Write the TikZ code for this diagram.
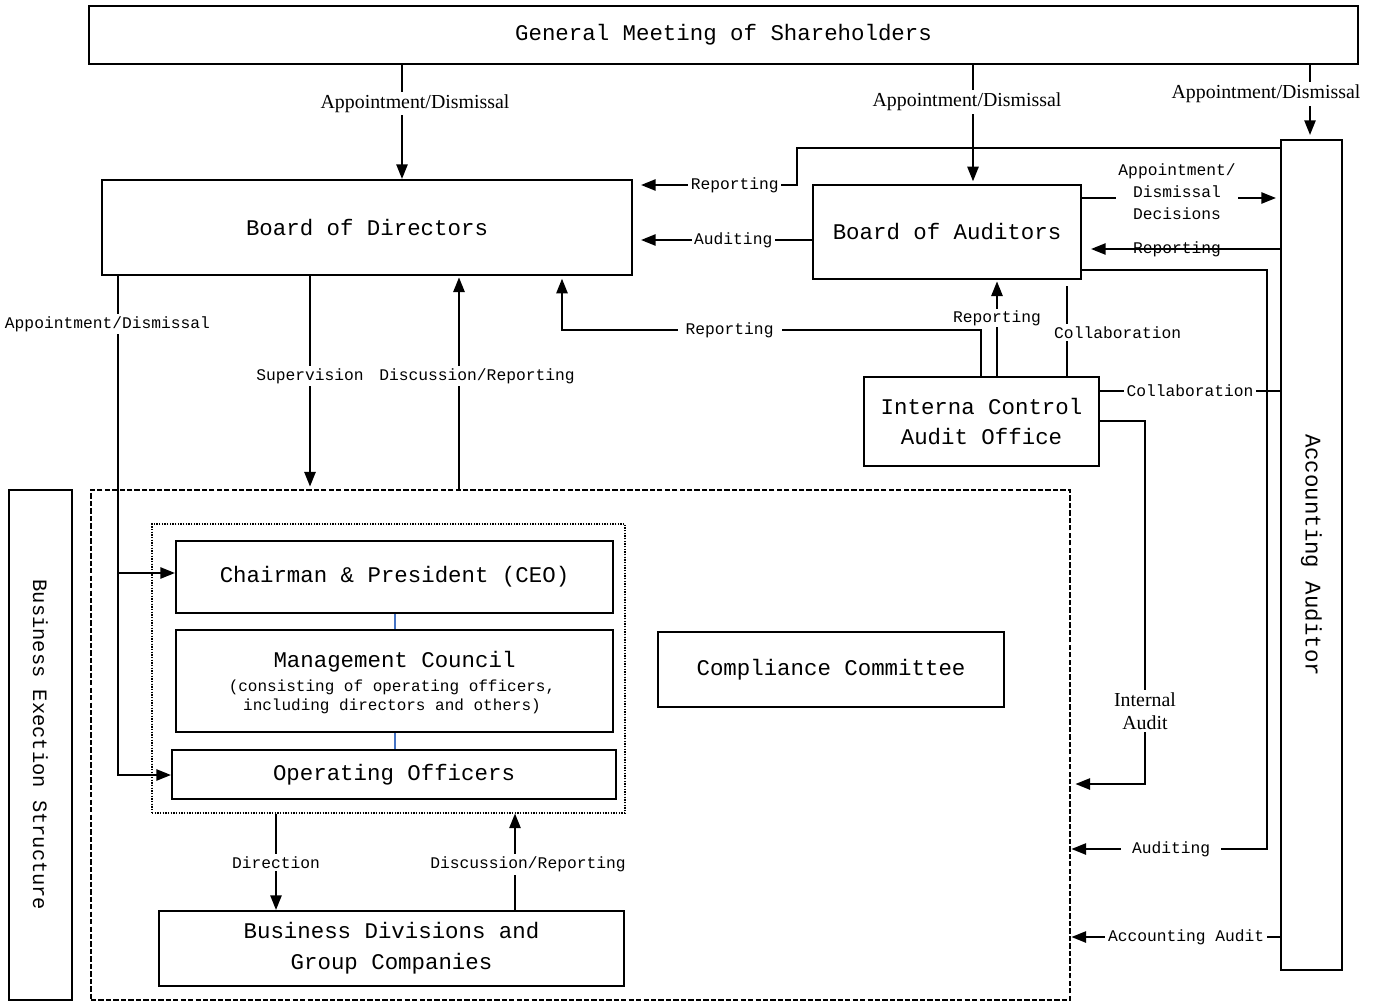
\documentclass[tikz,border=0pt]{standalone}
\usepackage{fontspec}
\setmainfont{Liberation Serif}
\newfontfamily\monofont{Liberation Mono}
\usetikzlibrary{arrows.meta}

\newcommand{\titlefont}{\monofont\fontsize{16.8}{23}\selectfont}
\newcommand{\lblfont}{\monofont\fontsize{12.2}{16.5}\selectfont}
\newcommand{\notefont}{\monofont\fontsize{12}{14.3}\selectfont}
\newcommand{\seriflbl}{\fontsize{14.9}{17}\selectfont}

\definecolor{linkblue}{RGB}{68,114,196}

\tikzset{
  box/.style={draw, line width=1.6pt, inner sep=0pt, align=center, font=\titlefont},
  arr/.style={line width=1.3pt, -{Triangle[length=11pt,width=8.5pt]}},
  conn/.style={line width=1.3pt},
  lbl/.style={fill=white, inner sep=2pt, font=\lblfont, align=center},
  slbl/.style={fill=white, inner sep=2pt, font=\seriflbl, align=center},
}

\begin{document}
\begin{tikzpicture}[x=0.75pt, y=-0.75pt]
  \useasboundingbox (0,0) rectangle (1381,1002);

  % frames of the execution side
  \node[draw, line width=2.2pt, dash pattern=on 4pt off 1.6pt, inner sep=0pt,
    minimum width=734.25pt, minimum height=382.5pt] (exec) at (580.5,745) {};
  \node[draw, line width=0.8pt, dash pattern=on 1pt off 1pt, inner sep=0pt,
    minimum width=354.75pt, minimum height=216.75pt] (dotbox) at (388.5,668.5) {};

  % boxes
  \node[box, minimum width=951.75pt, minimum height=43.5pt] (gm) at (723.5,35) {General Meeting of Shareholders};
  \node[box, minimum width=397.5pt, minimum height=71.25pt] (bod) at (367,227.5) {Board of Directors};
  \node[box, minimum width=201pt, minimum height=70.5pt] (boa) at (947,232) {Board of Auditors};
  \node[box, minimum width=45.75pt, minimum height=622.5pt] (aa) at (1311.5,555) {\rotatebox{-90}{Accounting Auditor}};
  \node[box, minimum width=176.25pt, minimum height=66.75pt] (icao) at (981.5,421.5) {Interna Control\\Audit Office};
  \node[box, minimum width=47.25pt, minimum height=382.5pt, font=\monofont\fontsize{15.3}{18}\selectfont] (bes) at (40.5,745) {\rotatebox{-90}{Business Exection Structure}};
  \node[box, minimum width=327.75pt, minimum height=54pt] (ceo) at (394.5,577) {Chairman \& President (CEO)};
  \node[box, minimum width=327.75pt, minimum height=76.5pt] (mc) at (394.5,681) {};
  \node[font=\titlefont] (mctitle) at (394.5,662) {Management Council};
  \node[font=\notefont, align=center] (mcnote) at (392,697) {(consisting of operating officers,\\including directors and others)};
  \node[box, minimum width=333pt, minimum height=36.75pt] (oo) at (394,774.5) {Operating Officers};
  \node[box, minimum width=259.5pt, minimum height=56.25pt] (cc) at (831,669.5) {Compliance Committee};
  \node[box, minimum width=348.75pt, minimum height=56.25pt] (bdgc) at (391.5,948.5) {Business Divisions and\\Group Companies};

  % from the shareholders
  \draw[arr] (gm.south -| 402,0) -- node[slbl, pos=0.34, xshift=9.75pt]{Appointment/Dismissal} (bod.north -| 402,0);
  \draw[arr, shorten >=2pt] (gm.south -| 973,0) -- node[slbl, pos=0.31, xshift=-4.5pt]{Appointment/Dismissal} (boa.north -| 973,0);
  \draw[arr, shorten >=3pt] (gm.south -| 1310,0) -- node[slbl, pos=0.39, xshift=-33pt]{Appointment/Dismissal} (aa.north -| 1310,0);

  % auditors and accounting auditor
  \draw[arr, shorten >=6pt] (aa.west |- 0,148) -- (797,148) -- (797,185) -- node[lbl, pos=0.38]{Reporting} (bod.east |- 0,185);
  \draw[arr, shorten >=6pt] (boa.west |- 0,240) -- node[lbl, pos=0.44]{Auditing} (bod.east |- 0,240);
  \draw[arr, shorten >=3pt] (boa.east |- 0,198) -- node[lbl, pos=0.48, yshift=5pt]{Appointment/\\Dismissal\\Decisions} (aa.west |- 0,198);
  \draw[arr, shorten >=6.75pt] (aa.west |- 0,249) -- node[lbl, fill=none, pos=0.52]{Reporting} (boa.east |- 0,249);
  \draw[arr] (boa.east |- 0,270) -- (1267,270) -- (1267,849) -- node[lbl, inner xsep=8pt, pos=0.49]{Auditing} (exec.east |- 0,849);

  % internal control audit office
  \draw[arr, shorten >=1pt] (icao.north -| 997,0) -- node[lbl, inner sep=1pt, pos=0.6]{Reporting} (boa.south -| 997,0);
  \draw[arr, shorten >=2pt] (icao.north -| 981,0) -- (981,330) -- node[lbl, inner xsep=6pt, pos=0.6]{Reporting} (562,330) -- (bod.south -| 562,0);
  \draw[conn, shorten <=4.5pt] (boa.south -| 1067,0) -- node[lbl, pos=0.55, xshift=38pt]{Collaboration} (icao.north -| 1067,0);
  \draw[conn] (icao.east |- 0,391) -- node[lbl, pos=0.5]{Collaboration} (aa.west |- 0,391);
  \draw[arr, shorten >=3pt] (icao.east |- 0,421) -- (1145,421) -- node[slbl, pos=0.8]{Internal\\Audit} (1145,784) -- (exec.east |- 0,784);
  \draw[arr] (aa.west |- 0,937) -- node[lbl, pos=0.45]{Accounting Audit} (exec.east |- 0,937);

  % board of directors and execution
  \draw[arr, shorten >=1.5pt] (bod.south -| 310,0) -- node[lbl, pos=0.47]{Supervision} (exec.north -| 310,0);
  \draw[arr, shorten >=1pt] (exec.north -| 459,0) -- node[lbl, pos=0.53, xshift=13.5pt]{Discussion/Reporting} (bod.south -| 459,0);
  \coordinate (split) at (118,573);
  \draw[arr] (bod.south -| 118,0) -- node[lbl, pos=0.096, xshift=-7.9pt]{Appointment/Dismissal} (118,775) -- (oo.west |- 0,775);
  \draw[arr] (split) -- (ceo.west |- split);

  \draw[linkblue, line width=0.8pt] (ceo.south -| 395,0) -- (mc.north -| 395,0);
  \draw[linkblue, line width=0.8pt] (mc.south -| 395,0) -- (oo.north -| 395,0);

  \draw[arr] (dotbox.south -| 276,0) -- node[lbl, pos=0.51]{Direction} (bdgc.north -| 276,0);
  \draw[arr] (bdgc.north -| 515,0) -- node[lbl, pos=0.47, xshift=9.75pt]{Discussion/Reporting} (dotbox.south -| 515,0);
\end{tikzpicture}
\end{document}
